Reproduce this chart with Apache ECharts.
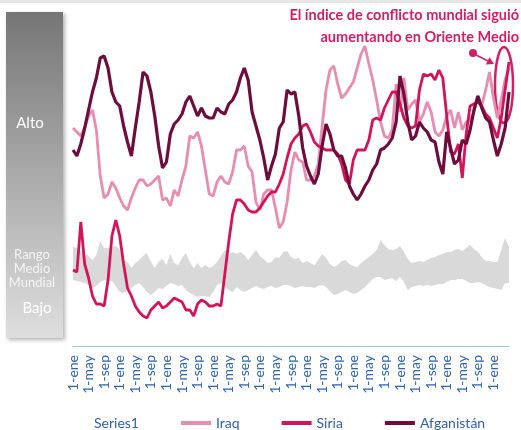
<!DOCTYPE html>
<html>
<head>
<meta charset="utf-8">
<title>Índice de conflicto</title>
<script src="https://cdn.jsdelivr.net/npm/echarts@6/dist/echarts.min.js"></script>
<style>
html,body{margin:0;padding:0;background:#fff;}
#main{width:521px;height:430px;}
</style>
</head>
<body>
<div id="main"></div>
<script>
// meses del eje: desde 1-ene, una etiqueta cada 4 meses
var monthNames = ['ene','feb','mar','abr','may','jun','jul','ago','sep','oct','nov','dic'];
var lastLabel = 108;

// valores del índice (escala 0-160)
var iraq = [109,107,105,109,115,118,108,85,74,76,
    82,79,74,70,68,74,79,83,83,80,
    81,83,85,73,74,70,78,75,83,90,
    105,104,107,100,88,76,75,82,85,82,
    81,87,98,98,100,90,87,72,68,76,
    78,78,69,59,62,72,88,97,93,92,
    83,83,85,91,110,128,138,140,131,124,
    126,129,132,139,146,150,141,133,123,112,
    105,104,108,131,117,134,118,121,123,112,
    116,122,117,107,105,108,115,118,109,117,
    108,112,113,117,125,120,128,137,124,114,
    123,133,139];

var siria = [38,37,62,41,34,25,21,21,20,33,
    55,63,55,41,29,25,20,17,15,14,
    18,20,22,19,20,22,24,23,22,18,
    18,15,21,23,22,20,20,21,20,36,
    52,66,73,73,71,68,67,67,69,72,
    75,77,77,81,86,94,101,104,106,110,
    111,107,102,100,99,98,98,98,96,91,
    83,81,93,98,98,98,103,113,114,113,
    119,123,127,127,121,114,110,109,110,128,
    136,135,136,133,138,134,115,97,96,101,
    84,106,120,121,122,120,116,114,109,104,
    114,128,142];

var afganistan = [98,95,101,109,118,127,134,144,145,139,
    127,122,120,110,102,95,109,122,137,135,
    127,115,100,89,92,106,111,113,116,122,
    125,120,115,119,115,114,114,119,117,116,
    121,123,127,134,139,133,117,110,103,94,
    83,90,96,109,112,128,126,127,115,99,
    90,85,81,86,100,111,106,98,95,95,
    89,80,76,73,76,80,83,88,91,98,
    99,101,104,112,135,126,112,103,105,112,
    109,107,103,102,92,86,107,99,91,93,
    103,101,108,118,125,119,114,112,103,95,
    101,109,127];

// rango medio mundial (borde inferior y superior)
var bandLow = [33,32.5,32,31.5,30.5,29,30,32,33,32.5,
    32.5,30,27,26.5,27.5,29,30.5,31.5,29.5,27,
    25.5,27,29,28.5,30,31.5,31,30,30.5,28,
    26.5,25.5,24.5,25,25,24.5,27,30.5,31.5,29.5,
    28,27,29.5,28,27,28,29,30,29,28.5,
    29.5,30,29,29.5,30.5,30.5,30,29,29.5,30,
    29.5,29.5,29,30,30.5,29.5,27.5,25.5,26,27,
    28,27,26,26.5,28,29.5,31.5,33.5,34.5,34.5,
    33,33.5,34,32.5,34.5,32,28,29.5,30,30.5,
    30,30.5,30,30.5,31,31,32,33,33,33.5,
    33.5,32.5,31.5,31.5,32,31.5,30.5,29.5,29,28.5,
    28,31.5,31.5];

var bandHigh = [49.5,49,47.5,46.5,45,43,45.5,52.5,49,49,
    49.5,50,48,43,42,39,41.5,43,45,46.5,
    42,39,42,43.5,40.5,46,41.5,40.5,44,46.5,
    42,39,41.5,39,40.5,39,40,42,45,48,
    45.5,47,46,47,45.5,43,45.5,48,45,43.5,
    41.5,42,44.5,44,47,47.5,44.5,43.5,44,41.5,
    42.5,41.5,40.5,43,46,44,41,39.5,40.5,42.5,
    43,41,40,39.5,41.5,43,44.5,46,48,53,
    50.5,48.5,48,48.5,50,47,43.5,41.5,42,42.5,
    42,43,44,44.5,45.5,46,47,47,48,48.5,
    47.5,49,50.5,48.5,47,44.5,42.5,42.5,42,42,
    48,54,49.5];

var categories = [];
for (var i = 0; i < iraq.length; i++) {
    categories.push('1-' + monthNames[i % 12]);
}
var bandWidth = [];
for (var j = 0; j < bandLow.length; j++) {
    bandWidth.push(+(bandHigh[j] - bandLow[j]).toFixed(1));
}

var pink = '#d11f66';
var font = 'Lato';

var chart = echarts.init(document.getElementById('main'));
var option = {
    backgroundColor: '#ffffff',
    animation: false,
    textStyle: {fontFamily: font},
    grid: {left: 73, right: 12, top: 26, bottom: 84},
    legend: {
        left: 54,
        top: 411,
        icon: 'rect',
        itemWidth: 30,
        itemHeight: 4,
        itemGap: 42,
        textStyle: {color: '#2f5faf', fontSize: 14, fontFamily: font},
        data: ['Series1', 'Iraq', 'Siria', 'Afganistán']
    },
    xAxis: {
        type: 'category',
        boundaryGap: false,
        data: categories,
        axisLine: {lineStyle: {color: '#9dc3e6', width: 1}},
        axisTick: {show: false},
        axisLabel: {
            rotate: 90,
            margin: 9,
            color: '#2f63b4',
            fontSize: 14,
            fontFamily: font,
            interval: function (idx) {
                return idx % 4 === 0 && idx <= lastLabel;
            }
        },
        splitLine: {show: false}
    },
    yAxis: {type: 'value', min: 0, max: 160, show: false},
    series: [
        {
            name: 'Series1', type: 'line', stack: 'rango', data: bandLow,
            symbol: 'none', silent: true,
            lineStyle: {width: 0}, itemStyle: {color: 'rgba(0,0,0,0)'}
        },
        {
            name: 'Rango', type: 'line', stack: 'rango', data: bandWidth,
            symbol: 'none', silent: true,
            lineStyle: {width: 0}, itemStyle: {color: '#d9d9d9'},
            areaStyle: {color: '#d9d9d9', opacity: 1}
        },
        {
            name: 'Iraq', type: 'line', data: iraq, symbol: 'none',
            itemStyle: {color: '#e88db0'}, lineStyle: {color: '#e88db0', width: 2.8}
        },
        {
            name: 'Siria', type: 'line', data: siria, symbol: 'none',
            itemStyle: {color: '#d4145a'}, lineStyle: {color: '#d4145a', width: 2.8}
        },
        {
            name: 'Afganistán', type: 'line', data: afganistan, symbol: 'none',
            itemStyle: {color: '#6e0d3c'}, lineStyle: {color: '#6e0d3c', width: 3.2}
        }
    ],
    graphic: [
        {type: 'rect', shape: {x: 0, y: 0, width: 521, height: 3}, style: {fill: '#e6e6e6'}},
        {
            type: 'rect', shape: {x: 6, y: 12, width: 57, height: 326},
            style: {
                fill: new echarts.graphic.LinearGradient(0, 0, 0, 1, [
                    {offset: 0, color: '#767676'},
                    {offset: 1, color: '#dedede'}
                ]),
                shadowBlur: 4, shadowOffsetX: 2, shadowOffsetY: 2, shadowColor: 'rgba(0,0,0,0.3)'
            }
        },
        {type: 'text', x: 30, y: 123, style: {text: 'Alto', fill: '#fff', font: '15px ' + font, align: 'center', verticalAlign: 'middle'}},
        {type: 'text', x: 32, y: 269, style: {text: 'Rango\nMedio\nMundial', fill: '#f5f5f5', font: '13px ' + font, lineHeight: 14, align: 'center', verticalAlign: 'middle'}},
        {type: 'text', x: 37, y: 308, style: {text: 'Bajo', fill: '#fff', font: '15px ' + font, align: 'center', verticalAlign: 'middle'}},
        // anotación
        {type: 'text', x: 519, y: 15, style: {text: 'El índice de conflicto mundial siguió', fill: pink, font: 'bold 14.5px ' + font, align: 'right', verticalAlign: 'middle'}},
        {type: 'text', x: 519, y: 37, style: {text: 'aumentando en Oriente Medio', fill: pink, font: 'bold 14.5px ' + font, align: 'right', verticalAlign: 'middle'}},
        {type: 'ellipse', shape: {cx: 504, cy: 85, rx: 9, ry: 38}, style: {fill: 'none', stroke: pink, lineWidth: 2.5}},
        {type: 'circle', shape: {cx: 473, cy: 53, r: 4}, style: {fill: pink}},
        {type: 'line', shape: {x1: 476, y1: 55, x2: 488, y2: 61}, style: {stroke: pink, lineWidth: 1.5}},
        {type: 'polygon', shape: {points: [[494, 64], [485.9, 64.5], [489.5, 57.3]]}, style: {fill: pink}}
    ]
};
chart.setOption(option);
</script>
</body>
</html>
